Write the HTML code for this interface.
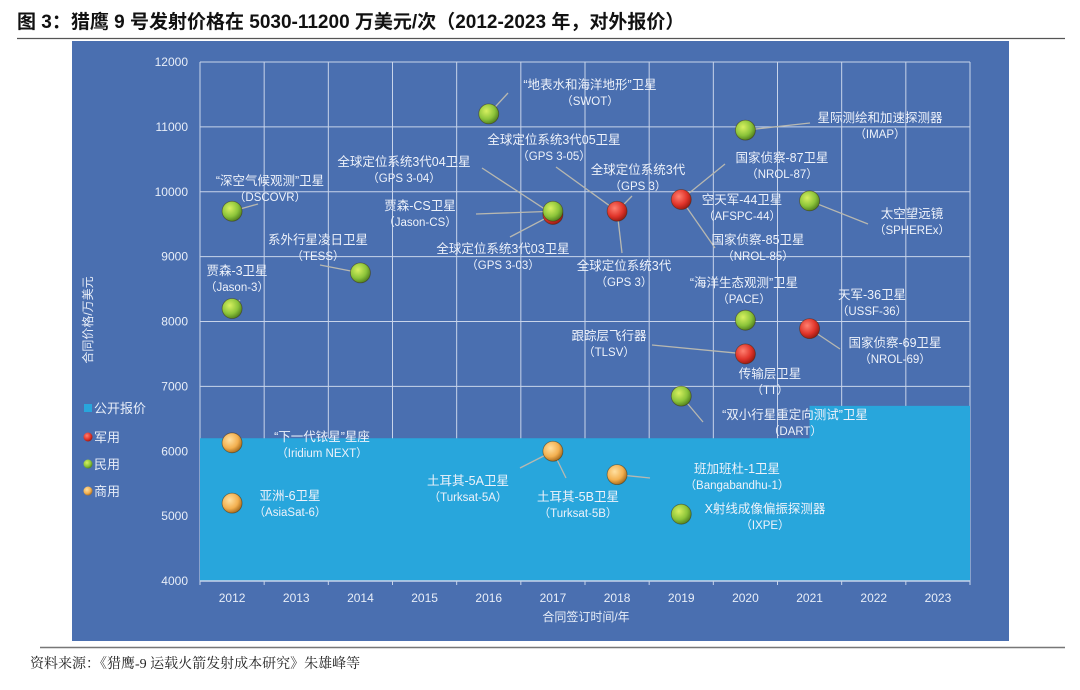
<!DOCTYPE html>
<html><head><meta charset="utf-8">
<style>
body{margin:0;background:#fff;width:1080px;height:685px;overflow:hidden;font-family:"Liberation Sans","Noto Sans CJK SC",sans-serif;}
</style></head>
<body>
<svg id="chart" width="1080" height="685" viewBox="0 0 1080 685" xmlns="http://www.w3.org/2000/svg">
<defs>
<radialGradient id="gGreen" cx="0.38" cy="0.35" r="0.7"><stop offset="0" stop-color="#d8f060"/><stop offset="0.6" stop-color="#8cc43a"/><stop offset="1" stop-color="#4c7a1c"/></radialGradient>
<radialGradient id="gRed" cx="0.38" cy="0.35" r="0.7"><stop offset="0" stop-color="#ff8070"/><stop offset="0.6" stop-color="#e0342a"/><stop offset="1" stop-color="#901810"/></radialGradient>
<radialGradient id="gOrange" cx="0.38" cy="0.35" r="0.7"><stop offset="0" stop-color="#ffe0a0"/><stop offset="0.6" stop-color="#f3b050"/><stop offset="1" stop-color="#a06418"/></radialGradient>
</defs>
<text x="17" y="28" font-size="19" font-weight="bold" fill="#111">图 3：猎鹰 9 号发射价格在 5030-11200 万美元/次（2012-2023 年，对外报价）</text>
<line x1="17" y1="38.5" x2="1065" y2="38.5" stroke="#555" stroke-width="1.2"/>
<rect x="72" y="41" width="937" height="600" fill="#4a6fb0"/>
<g id="grid"></g>
<path id="band" fill="#28a6dc"/>
<g id="axes"></g>
<g id="leaders"></g>
<g id="points"></g>
<g id="labels"></g>
<text x="586" y="621" font-size="12" fill="#e8eef8" text-anchor="middle">合同签订时间/年</text>
<text transform="translate(92,320) rotate(-90)" font-size="12" fill="#e8eef8" text-anchor="middle">合同价格/万美元</text>
<g font-size="13" fill="#e8eef8">
<g><rect x="84" y="404" width="8" height="8" fill="#28a6dc"/><text x="94" y="413">公开报价</text></g>
<g><circle cx="88" cy="437" r="4.5" fill="url(#gRed)"/><text x="94" y="442">军用</text></g>
<g><circle cx="88" cy="464" r="4.5" fill="url(#gGreen)"/><text x="94" y="469">民用</text></g>
<g><circle cx="88" cy="491" r="4.5" fill="url(#gOrange)"/><text x="94" y="496">商用</text></g>
</g>
<line x1="40" y1="647.5" x2="1065" y2="647.5" stroke="#777" stroke-width="1.5"/>
<text x="30" y="668" font-size="14" fill="#222" font-family="'Liberation Serif','Noto Serif CJK SC',serif">资料来源：《猎鹰-9 运载火箭发射成本研究》朱雄峰等</text>
</svg>
<script>
const years = [2012,2013,2014,2015,2016,2017,2018,2019,2020,2021,2022,2023];
const yTicks = [4000,5000,6000,7000,8000,9000,10000,11000,12000];
const pointYears = [2012,2012,2012,2012,2014,2016,2017,2017,2017,2018,2018,2019,2019,2019,2020,2020,2020,2021,2021];
const pointValues = [9700,8200,6130,5200,8750,11200,9650,9700,6000,9700,5640,9880,6850,5030,10950,8020,7500,9860,7890];
const pointTypes = ['civil','civil','commercial','commercial','civil','civil','military','civil','commercial','military','commercial','military','civil','civil','civil','civil','military','civil','military'];
const bandYears = [2012,2021.5];
const bandValues = [6200,6700];

const X0=200, X1=970, Y0=581, Y1=62;
const bw=(X1-X0)/years.length;
function xPos(yr){return X0+(yr-years[0]+0.5)*bw;}
function yPos(v){return Y0-(v-4000)/(12000-4000)*(Y0-Y1);}
const NS='http://www.w3.org/2000/svg';
function mk(tag,attrs,parent){const e=document.createElementNS(NS,tag);for(const k in attrs)e.setAttribute(k,attrs[k]);parent.appendChild(e);return e;}

const grid=document.getElementById('grid'), axes=document.getElementById('axes');
yTicks.forEach(t=>{
  const l=mk('line',{x1:X0,x2:X1,y1:yPos(t),y2:yPos(t),stroke:'#c8d4ea','stroke-width':1},grid);
  
  
  const tx=mk('text',{x:188,y:yPos(t)+4,'font-size':12,fill:'#e8eef8','text-anchor':'end'},axes);
  tx.textContent=t;
  
  
});
for(let i=0;i<=years.length;i++){
  const x=X0+i*bw;
  const l=mk('line',{x1:x,x2:x,y1:Y1,y2:Y0+4,stroke:'#c8d4ea','stroke-width':1},grid);
  
  
}
years.forEach(yr=>{
  const tx=mk('text',{x:xPos(yr),y:602,'font-size':12,fill:'#e8eef8','text-anchor':'middle'},axes);
  tx.textContent=yr;
  
  
});
const bx=X0+(bandYears[1]-years[0])*bw;
document.getElementById('band').setAttribute('d',`M${X0},${Y0}V${yPos(bandValues[0])}H${bx}V${yPos(bandValues[1])}H${X1}V${Y0}Z`);
const ax=mk('line',{x1:X0,x2:X1,y1:Y0,y2:Y0,stroke:'#c8d4ea','stroke-width':1.5},axes);



const fills={civil:'url(#gGreen)',military:'url(#gRed)',commercial:'url(#gOrange)'};
const pts=document.getElementById('points');
pointYears.forEach((yr,i)=>{
  const c=mk('circle',{cx:xPos(yr),cy:yPos(pointValues[i]),r:10,fill:fills[pointTypes[i]],stroke:'rgba(60,40,10,0.5)','stroke-width':0.8},pts);
  
  
});

// label layout: [text1, text2, cx, cy, leader-end x, y, point index]
const labelLayout=[
 ['“深空气候观测”卫星','（DSCOVR）',270,185,258,204,0],
 ['贾森-3卫星','（Jason-3）',237,275,240,300,1],
 ['“下一代铱星”星座','（Iridium NEXT）',322,441,null,null,2],
 ['亚洲-6卫星','（AsiaSat-6）',290,500,null,null,3],
 ['系外行星凌日卫星','（TESS）',318,244,320,265,4],
 ['“地表水和海洋地形”卫星','（SWOT）',590,89,508,93,5],
 ['全球定位系统3代04卫星','（GPS 3-04）',404,166,482,168,6],
 ['贾森-CS卫星','（Jason-CS）',420,210,476,214,7],
 ['全球定位系统3代03卫星','（GPS 3-03）',503,253,510,237,6],
 ['土耳其-5A卫星','（Turksat-5A）',468,485,520,468,8],
 ['土耳其-5B卫星','（Turksat-5B）',578,501,566,478,8],
 ['全球定位系统3代05卫星','（GPS 3-05）',554,144,556,167,9],
 ['全球定位系统3代','（GPS 3）',638,174,632,196,9],
 ['全球定位系统3代','（GPS 3）',624,270,622,253,9],
 ['班加班杜-1卫星','（Bangabandhu-1）',737,473,650,478,10],
 ['空天军-44卫星','（AFSPC-44）',742,204,null,null,11],
 ['国家侦察-87卫星','（NROL-87）',782,162,725,164,11],
 ['国家侦察-85卫星','（NROL-85）',758,244,715,248,11],
 ['“双小行星重定向测试”卫星','（DART）',795,419,703,422,12],
 ['X射线成像偏振探测器','（IXPE）',765,513,null,null,13],
 ['星际测绘和加速探测器','（IMAP）',880,122,810,123,14],
 ['“海洋生态观测”卫星','（PACE）',744,287,null,null,15],
 ['跟踪层飞行器','（TLSV）',609,340,652,345,16],
 ['传输层卫星','（TT）',770,378,null,null,16],
 ['太空望远镜','（SPHEREx）',912,218,868,224,17],
 ['天军-36卫星','（USSF-36）',872,299,null,null,18],
 ['国家侦察-69卫星','（NROL-69）',895,347,840,349,18]
];
const lg=document.getElementById('labels'), ld=document.getElementById('leaders');
labelLayout.forEach(L=>{
  const g=mk('g',{},lg);
  
  
  const t1=mk('text',{x:L[2],y:L[3],'font-size':12.5,fill:'#eef2fa','text-anchor':'middle'},g);
  t1.textContent=L[0];
  const t2=mk('text',{x:L[2],y:L[3]+16,'font-size':11.5,fill:'#eef2fa','text-anchor':'middle'},g);
  t2.textContent=L[1];
  if(L[4]!==null){
    const i=L[6];
    const ln=mk('line',{x1:L[4],y1:L[5],x2:xPos(pointYears[i]),y2:yPos(pointValues[i]),stroke:'#b8b8b0','stroke-width':1.3},ld);
    
    
  }
});
</script>
</body></html>
